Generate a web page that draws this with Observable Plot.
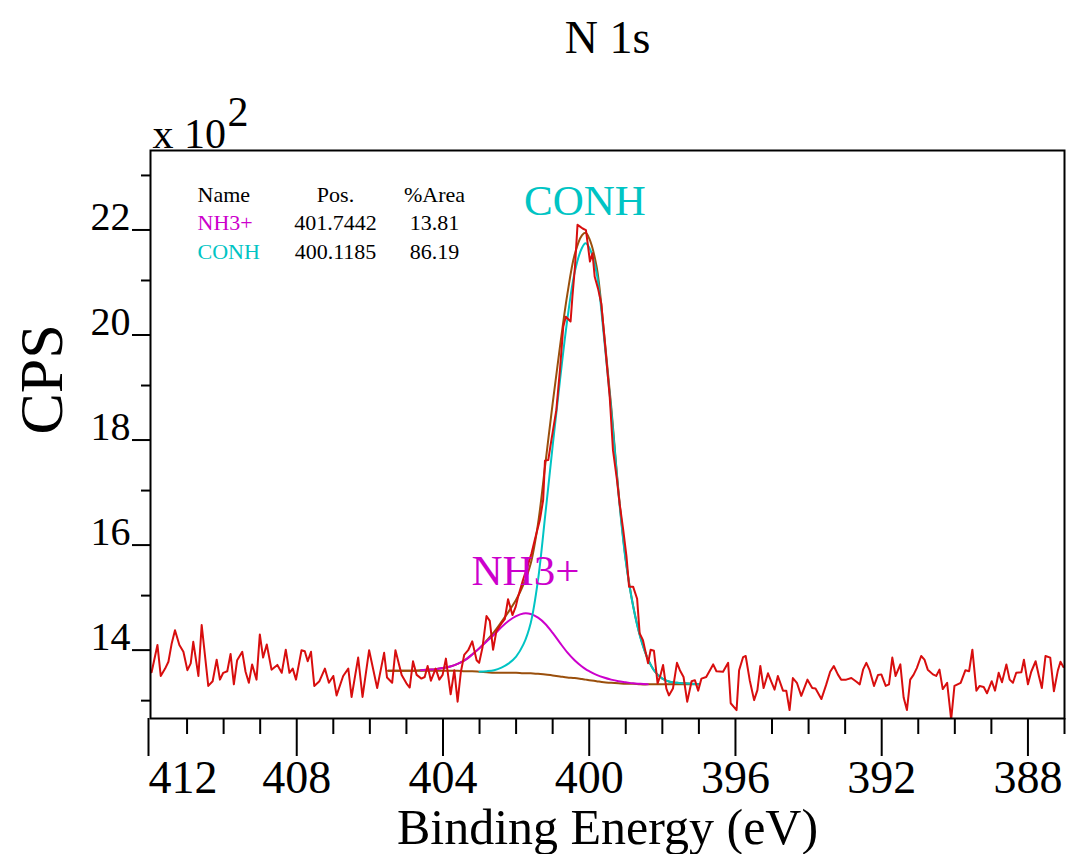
<!DOCTYPE html>
<html>
<head>
<meta charset="utf-8">
<script src="https://cdn.jsdelivr.net/npm/d3@7"></script>
<script src="https://cdn.jsdelivr.net/npm/@observablehq/plot@0.6"></script>
<style>
  body { margin: 0; background: #fff; }
  #chart { width: 1066px; height: 854px; }
</style>
</head>
<body>
<div id="chart"></div>
<script>
// ---------- data (CPS in units of 10^2) ----------
const spectrumBE = [
  411.97,411.81,411.72,411.60,411.51,411.42,411.33,411.21,411.10,410.99,410.90,410.83,410.69,410.60,410.42,410.30,410.19,410.10,410.01,
  409.90,409.81,409.72,409.63,409.49,409.40,409.31,409.22,409.10,409.01,408.92,408.82,408.69,408.53,408.41,408.30,408.20,408.11,408.02,
  407.87,407.78,407.70,407.61,407.52,407.38,407.23,407.12,407.00,406.91,406.73,406.59,406.50,406.32,406.20,406.02,405.80,405.61,405.53,
  405.39,405.30,405.13,405.00,404.91,404.82,404.72,404.59,404.50,404.42,404.33,404.20,404.10,404.01,403.92,403.79,403.69,403.60,403.51,
  403.42,403.31,403.20,403.08,403.01,402.92,402.81,402.72,402.63,402.54,402.40,402.31,402.22,402.10,402.01,401.94,401.81,401.72,
  401.58,401.49,401.35,401.26,401.21,401.12,401.06,400.99,400.90,400.80,400.71,400.64,400.51,400.46,400.39,400.32,400.26,400.18,400.09,
  400.03,399.98,399.91,399.85,399.76,399.67,399.57,399.44,399.35,399.24,399.17,399.07,398.98,398.91,398.80,398.69,398.62,398.53,398.39,
  398.32,398.23,398.13,398.05,397.98,397.89,397.82,397.71,397.60,397.52,397.42,397.32,397.20,397.11,397.02,396.93,396.80,396.61,396.52,
  396.34,396.20,396.13,395.97,395.90,395.79,395.72,395.61,395.49,395.40,395.32,395.23,395.11,395.02,394.93,394.84,394.70,394.61,394.52,
  394.43,394.32,394.20,394.03,393.90,393.81,393.65,393.52,393.41,393.31,393.20,393.11,392.97,392.83,392.69,392.60,392.51,392.42,392.33,
  392.21,392.10,392.01,391.89,391.80,391.71,391.62,391.49,391.40,391.31,391.22,391.13,391.04,390.92,390.83,390.74,390.60,390.51,390.42,
  390.33,390.21,390.10,390.01,389.84,389.71,389.61,389.52,389.41,389.32,389.21,389.12,388.99,388.90,388.80,388.71,388.59,388.50,388.41,
  388.32,388.18,388.11,388.00,387.91,387.79,387.70,387.62,387.52,387.39,387.29,387.18,387.11,387.03
];
const spectrumCPS = [
  13.54,14.06,13.47,13.61,13.74,14.09,14.34,14.06,13.93,13.58,13.71,14.12,13.47,14.44,13.28,13.37,13.78,13.40,13.53,
  13.56,13.89,13.31,13.77,13.93,13.55,13.34,13.69,13.40,14.26,13.82,14.07,13.59,13.68,13.53,13.97,13.53,13.61,13.40,
  13.96,13.94,13.75,13.93,13.28,13.37,13.61,13.34,13.47,13.10,13.47,13.61,13.07,13.82,13.07,13.96,13.24,13.91,13.44,
  13.34,13.96,13.49,13.33,13.25,13.75,13.49,13.42,13.45,13.66,13.38,13.61,13.40,13.49,13.80,13.12,13.58,12.98,13.55,
  13.87,13.96,14.13,13.77,13.72,14.01,14.61,14.52,13.97,14.32,14.47,14.55,14.93,14.63,14.79,14.99,15.30,15.49,
  15.80,16.06,16.44,16.82,17.57,17.58,17.85,18.15,18.53,19.30,20.12,20.31,20.22,20.69,21.26,22.06,22.03,21.99,21.96,
  21.64,21.36,21.52,21.07,20.85,20.56,19.80,18.79,17.77,17.20,16.76,16.25,15.74,15.17,15.17,14.94,14.28,14.15,13.71,
  13.97,13.95,13.33,13.49,13.68,13.23,13.10,13.23,13.72,13.58,13.45,12.98,13.37,13.39,13.19,13.42,13.45,13.69,13.56,
  13.55,13.72,12.95,12.82,13.58,13.83,13.85,13.39,13.01,13.20,13.66,13.24,13.52,13.36,13.21,13.47,13.19,13.19,12.82,
  13.43,13.34,13.09,13.40,13.24,13.23,13.03,13.30,13.55,13.66,13.50,13.40,13.40,13.43,13.36,13.31,13.59,13.72,13.58,
  13.28,13.49,13.50,13.28,13.31,13.82,13.47,13.69,13.06,12.82,13.40,13.49,13.62,13.85,13.78,13.59,13.50,13.47,13.59,
  13.22,13.34,12.64,13.28,13.34,13.58,13.56,13.97,13.19,13.28,13.26,13.14,13.37,13.19,13.53,13.35,13.69,13.40,13.34,
  13.53,13.54,13.78,13.31,13.55,13.75,13.47,13.24,13.85,13.82,13.18,13.58,13.74,13.64
];

// fit curves, read on a common binding-energy grid
const fitBE = [405.5,405.4,405.2,405.0,404.8,404.6,404.4,404.2,404.0,403.8,403.6,403.4,403.2,403.0,
  402.8,402.6,402.4,402.2,402.0,401.8,401.6,401.4,401.2,401.0,400.8,400.6,400.4,400.2,400.1,400.0,
  399.8,399.6,399.4,399.2,399.0,398.8,398.6,398.4,398.2,398.0,397.8,397.6,397.4,397.2,397.0];
const backgroundCPS = [13.57,13.57,13.57,13.57,13.57,13.57,13.57,13.57,13.57,13.57,13.57,13.56,13.56,13.55,
  13.54,13.53,13.53,13.53,13.53,13.52,13.52,13.51,13.50,13.48,13.46,13.44,13.43,13.41,13.40,13.39,
  13.37,13.35,13.34,13.33,13.32,13.32,13.31,13.31,13.31,13.31,13.31,13.31,13.31,13.31,13.31];
const conhCPS = [13.57,13.57,13.57,13.57,13.57,13.57,13.57,13.57,13.57,13.57,13.57,13.56,13.56,13.55,
  13.56,13.58,13.63,13.71,13.84,14.07,14.48,15.30,16.55,17.85,19.10,20.25,21.15,21.62,21.71,21.63,
  21.15,19.95,18.55,16.95,15.65,14.80,14.20,13.80,13.55,13.42,13.36,13.34,13.33,13.32,13.31];
const nh3CPS = [13.57,13.57,13.57,13.57,13.57,13.58,13.59,13.60,13.62,13.65,13.70,13.77,13.88,14.00,
  14.13,14.26,14.40,14.52,14.61,14.66,14.65,14.58,14.46,14.29,14.10,13.92,13.77,13.65,13.60,13.56,
  13.49,13.44,13.40,13.37,13.35,13.33,13.32,13.31,13.31,13.31,13.31,13.31,13.31,13.31,13.31];

const peakNames = ["NH3+", "CONH"];
const peakPos = [401.7442, 400.1185];
const peakArea = [13.81, 86.19];
const tableHeader = ["Name", "Pos.", "%Area"];

const xMajorTicks = [412, 408, 404, 400, 396, 392, 388];
const xMinorTicks = [411,410,409,407,406,405,403,402,401,399,398,397,395,394,393,391,390,389,387];
const yMajorTicks = [14, 16, 18, 20, 22];
const yMinorTicks = [13, 15, 17, 19, 21, 23];

// ---------- tables built from the arrays ----------
const spectrum = spectrumBE.map((be, i) => ({be, cps: spectrumCPS[i]}));
const fit = fitBE.map((be, i) => ({
  be,
  bg: backgroundCPS[i],
  conh: conhCPS[i],
  nh3: nh3CPS[i],
  env: conhCPS[i] + nh3CPS[i] - backgroundCPS[i]
}));
const peakColors = ["#cc00cc", "#00c4c4"];
const peakMax = [d3.max(nh3CPS), d3.max(conhCPS)];
const peaks = peakNames.map((name, i) => ({name, pos: peakPos[i], top: peakMax[i], color: peakColors[i]}));

const FONT = "Liberation Serif, Times New Roman, serif";
const BROWN = "#9a4f0c";

// legend table (name / position / area)
const tableRows = [
  {cells: tableHeader, color: "black"},
  ...peakNames.map((n, i) => ({cells: [n, peakPos[i].toFixed(4), peakArea[i].toFixed(2)], color: peakColors[i]}))
];
const rowDy = [51, 79.5, 108];
const colDx = [47, 185, 284];
const tableMarks = [];
tableRows.forEach((row, r) => {
  row.cells.forEach((txt, c) => {
    tableMarks.push(Plot.text([txt], {
      text: d => d, frameAnchor: "top-left", dx: colDx[c], dy: rowDy[r],
      textAnchor: c === 0 ? "start" : "middle", lineAnchor: "bottom",
      fontSize: 22, fontFamily: FONT, fill: c === 0 ? row.color : "black"
    }));
  });
});

const xLabelOpts = {tickSize: 38, tickPadding: 36, lineAnchor: "bottom", fontSize: 46, strokeWidth: 2, label: null, fontFamily: FONT};

const chart = Plot.plot({
  width: 1066,
  height: 854,
  marginLeft: 150,
  marginRight: 2,
  marginTop: 150,
  marginBottom: 136,
  style: {fontFamily: FONT, background: "white", color: "black", overflow: "visible"},
  x: {domain: [412, 387], label: null},
  y: {domain: [12.66, 23.475], label: null},
  marks: [
    // axes
    Plot.axisX({ticks: xMinorTicks, tickSize: 16, tickFormat: () => "", strokeWidth: 2, label: null}),
    Plot.axisX({...xLabelOpts, ticks: xMajorTicks.slice(0, 1), textAnchor: "start", dx: -2}),
    Plot.axisX({...xLabelOpts, ticks: xMajorTicks.slice(1)}),
    Plot.axisY({ticks: yMinorTicks, tickSize: 9, tickFormat: () => "", strokeWidth: 2, label: null}),
    Plot.axisY({ticks: yMajorTicks, tickSize: 18, tickPadding: 2, lineAnchor: "bottom", dy: 2, fontSize: 40, strokeWidth: 2, label: null, fontFamily: FONT}),
    // fit curves
    Plot.line(fit, {x: "be", y: "env", stroke: BROWN, strokeWidth: 2, curve: "catmull-rom"}),
    Plot.line(fit, {x: "be", y: "bg", stroke: BROWN, strokeWidth: 2, curve: "catmull-rom"}),
    Plot.line(fit, {x: "be", y: "nh3", stroke: "#cc00cc", strokeWidth: 2, curve: "catmull-rom",
      filter: d => d.be <= 404.6 && d.be >= 398.4}),
    Plot.line(fit, {x: "be", y: "conh", stroke: "#00c4c4", strokeWidth: 2, curve: "catmull-rom",
      filter: d => d.be <= 403.0}),
    // raw spectrum
    Plot.line(spectrum, {x: "be", y: "cps", stroke: "#d80e0e", strokeWidth: 2, clip: true}),
    Plot.frame({stroke: "black", strokeWidth: 2}),
    // peak labels
    Plot.text(peaks, {x: "pos", y: "top", text: "name", fill: "color", dy: -28, lineAnchor: "bottom",
      fontSize: 43, fontFamily: FONT}),
    // component table
    ...tableMarks,
    // titles
    Plot.text(["N 1s"], {text: d => d, frameAnchor: "top", dy: -98, lineAnchor: "bottom", fontSize: 46, fontFamily: FONT}),
    Plot.text(["x 10"], {text: d => d, frameAnchor: "top-left", dx: 2, dy: -3, textAnchor: "start", lineAnchor: "bottom", fontSize: 42, fontFamily: FONT}),
    Plot.text(["2"], {text: d => d, frameAnchor: "top-left", dx: 77, dy: -25, textAnchor: "start", lineAnchor: "bottom", fontSize: 42, fontFamily: FONT}),
    Plot.text(["CPS"], {text: d => d, frameAnchor: "left", dx: -108, rotate: -90, lineAnchor: "middle", fontSize: 62, fontFamily: FONT}),
    Plot.text(["Binding Energy (eV)"], {text: d => d, frameAnchor: "bottom", dy: 125, lineAnchor: "bottom", fontSize: 50, fontFamily: FONT})
  ]
});
document.getElementById("chart").appendChild(chart);
</script>
</body>
</html>
